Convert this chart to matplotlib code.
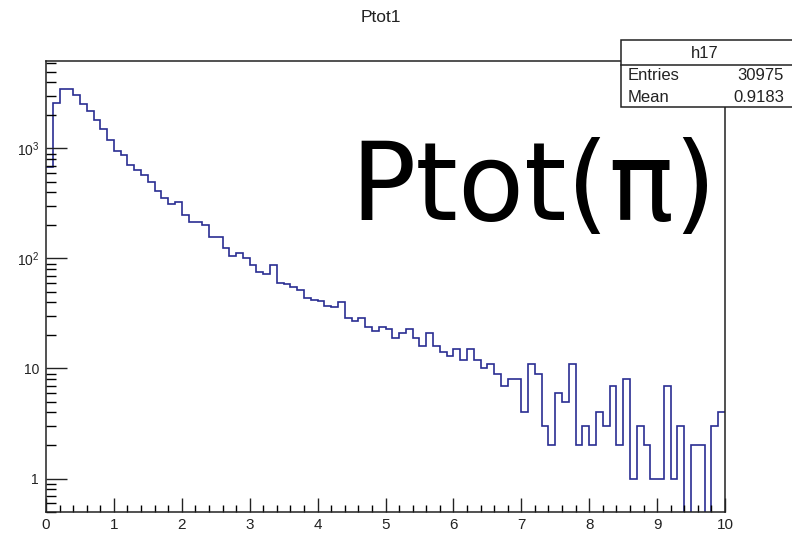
import numpy as np
import matplotlib
matplotlib.use("Agg")
import matplotlib.pyplot as plt
from matplotlib.patches import Rectangle
from matplotlib.ticker import FixedLocator, NullFormatter

plt.rcParams['font.family'] = ['Liberation Sans', 'DejaVu Sans']
plt.rcParams['mathtext.fontset'] = 'custom'
plt.rcParams['mathtext.rm'] = 'Liberation Sans'
plt.rcParams['mathtext.it'] = 'Liberation Sans'
plt.rcParams['mathtext.bf'] = 'Liberation Sans'

# ---- data ----
title = "Ptot1"
hist_name = "h17"
entries = "30975"
mean = "0.9183"
annotation = "Ptot(\u03c0)"
x_min, x_max, n_bins = 0.0, 10.0, 100
counts = [
    684, 2608, 3450, 3450, 3065, 2540, 2206, 1815, 1496, 1195,
    955, 873, 708, 638, 575, 500, 410, 352, 311, 324,
    248, 213, 213, 200, 158, 158, 124, 106, 111, 100,
    87, 76, 73, 87, 60, 59, 55, 52, 44, 42,
    41, 37, 36, 40, 29, 27, 29, 24, 22, 24,
    23, 19, 21, 23, 19, 16, 21, 16, 14, 13,
    15, 12, 15, 12, 10, 11, 9, 7, 8, 8,
    4, 11, 9, 3, 2, 6, 5, 11, 2, 3,
    2, 4, 3, 7, 2, 8, 1, 3, 2, 1,
    1, 7, 1, 3, 0, 2, 2, 0, 3, 4,
]
x_ticks = [0, 1, 2, 3, 4, 5, 6, 7, 8, 9, 10]
x_ticklabels = ["0", "1", "2", "3", "4", "5", "6", "7", "8", "9", "10"]
y_ticks = [1, 10, 100, 1000]
y_ticklabels = ["1", "10", r"$\mathregular{10^{2}}$", r"$\mathregular{10^{3}}$"]
y_lim = (0.496, 6240)

# ---- figure ----
W, H = 792, 535
fig = plt.figure(figsize=(W / 100, H / 100), dpi=100)

def fx(px):
    return px / W

def fy(py):
    return 1 - py / H

ax_l, ax_r, ax_t, ax_b = 46, 725, 61, 512
ax = fig.add_axes([fx(ax_l), fy(ax_b), fx(ax_r - ax_l), (ax_b - ax_t) / H])

edges = np.linspace(x_min, x_max, n_bins + 1)
vals = np.asarray(counts, dtype=float)
plot_vals = np.where(vals > 0, vals, 1e-3)
ax.set_yscale('log')
ax.stairs(plot_vals, edges, color='#2a2e92', lw=1.2, baseline=None)

ax.set_xlim(x_min, x_max)
ax.set_ylim(*y_lim)

ax.xaxis.set_major_locator(FixedLocator(x_ticks))
ax.set_xticklabels(x_ticklabels)
ax.xaxis.set_minor_locator(FixedLocator(np.arange(0, 10.01, 0.2)))
ax.yaxis.set_major_locator(FixedLocator(y_ticks))
ax.set_yticklabels(y_ticklabels)
minor_y = [m * 10.0 ** e for e in range(-1, 4) for m in range(2, 10)]
minor_y = [v for v in minor_y if y_lim[0] <= v <= y_lim[1]]
ax.yaxis.set_minor_locator(FixedLocator(minor_y))
ax.yaxis.set_minor_formatter(NullFormatter())

ax.tick_params(axis='x', which='major', direction='in', length=10, width=1,
               labelsize=11, pad=4, colors='#222222', top=False)
ax.tick_params(axis='x', which='minor', direction='in', length=5, width=1,
               top=False)
ax.tick_params(axis='y', which='major', direction='in', length=15, width=1,
               labelsize=10, pad=5, colors='#222222', right=False)
ax.tick_params(axis='y', which='minor', direction='in', length=7.5, width=1,
               right=False)
for s in ax.spines.values():
    s.set_linewidth(1.1)
    s.set_color('#222222')

# title
fig.text(fx(381), fy(18), title, ha='center', va='center', fontsize=12.5,
         color='#222222')

# big annotation
fig.text(fx(350), fy(220), annotation, ha='left', va='baseline',
         fontsize=78, family=['DejaVu Sans'], color='black')

# stats box
bx0, bx1, by0, by1, bsep = 621, 800, 40, 107, 65
fig.patches.append(Rectangle((fx(bx0), fy(by1)), fx(bx1 - bx0), (by1 - by0) / H,
                             transform=fig.transFigure, facecolor='white',
                             edgecolor='#222222', lw=1.1, zorder=10))
fig.lines.append(plt.Line2D([fx(bx0), fx(bx1)], [fy(bsep), fy(bsep)],
                            transform=fig.transFigure, color='#222222', lw=1.1,
                            zorder=11))
fig.text(fx(705), fy(53), hist_name, ha='center', va='center', fontsize=12,
         color='#222222', zorder=12)
fig.text(fx(628), fy(76), "Entries", ha='left', va='center', fontsize=12,
         color='#222222', zorder=12)
fig.text(fx(784), fy(76), entries, ha='right', va='center', fontsize=12,
         color='#222222', zorder=12)
fig.text(fx(628), fy(97), "Mean", ha='left', va='center', fontsize=12,
         color='#222222', zorder=12)
fig.text(fx(784), fy(97), mean, ha='right', va='center', fontsize=12,
         color='#222222', zorder=12)

fig.savefig("out.png", dpi=100)
